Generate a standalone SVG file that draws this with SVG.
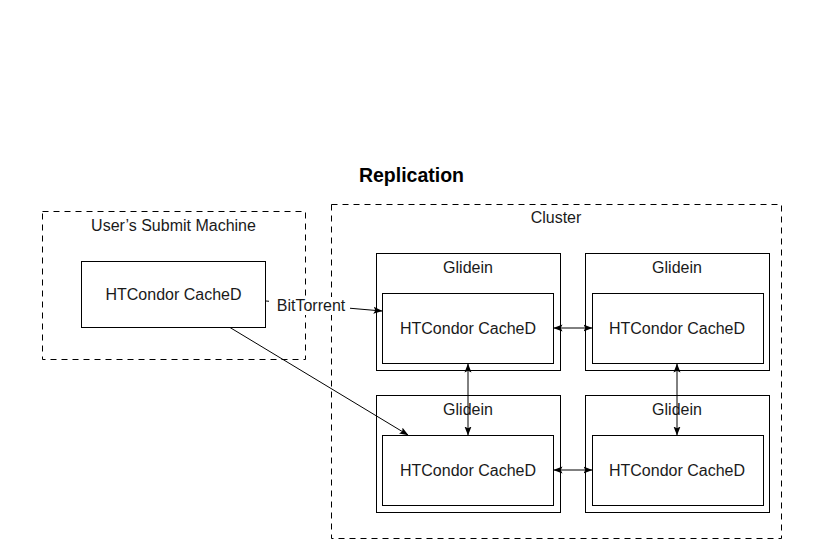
<svg xmlns="http://www.w3.org/2000/svg" width="813" height="556" viewBox="0 0 813 556">
<defs>
<style>
.box{fill:#fff;stroke:#000;stroke-width:1}
.dash{fill:none;stroke:#000;stroke-width:1;stroke-dasharray:6 5}
.t{font-family:"Liberation Sans",Arial,Helvetica,sans-serif;font-size:16px;fill:#1a1a1a;text-anchor:middle}
.title{font-family:"Liberation Sans",Arial,Helvetica,sans-serif;font-size:19.5px;font-weight:bold;fill:#000;text-anchor:middle}
.edge{fill:none;stroke:#000;stroke-width:1}
</style>
<marker id="arr" viewBox="0 0 9 8" refX="8.5" refY="4" markerWidth="9" markerHeight="8" markerUnits="userSpaceOnUse" orient="auto-start-reverse">
<path d="M0,0.5 L9,4 L0,7.5 L1.8,4 z" fill="#000"/>
</marker>
</defs>
<rect width="813" height="556" fill="#fff"/>
<text class="title" x="411.5" y="182">Replication</text>

<g id="submit-machine">
<rect class="dash" x="42.5" y="211.5" width="263" height="148"/>
<text class="t" x="173.5" y="231">User’s Submit Machine</text>
</g>
<g id="submit-cached">
<rect class="box" x="81.5" y="261.5" width="184" height="66"/>
<text class="t" x="173.5" y="300">HTCondor CacheD</text>
</g>

<g id="cluster">
<rect class="dash" x="331.5" y="204.5" width="450" height="334"/>
<text class="t" x="556" y="223">Cluster</text>
</g>

<g id="glidein-tl">
<rect class="box" x="376.5" y="253.5" width="184" height="117"/>
<text class="t" x="468" y="273">Glidein</text>
<rect class="box" x="382.5" y="293.5" width="171" height="70"/>
<text class="t" x="468" y="334">HTCondor CacheD</text>
</g>
<g id="glidein-tr">
<rect class="box" x="585.5" y="253.5" width="184" height="117"/>
<text class="t" x="677" y="273">Glidein</text>
<rect class="box" x="592.5" y="293.5" width="171" height="70"/>
<text class="t" x="677" y="334">HTCondor CacheD</text>
</g>
<g id="glidein-bl">
<rect class="box" x="376.5" y="395.5" width="184" height="117"/>
<text class="t" x="468" y="415">Glidein</text>
<rect class="box" x="382.5" y="435.5" width="171" height="70"/>
<text class="t" x="468" y="476">HTCondor CacheD</text>
</g>
<g id="glidein-br">
<rect class="box" x="585.5" y="395.5" width="184" height="117"/>
<text class="t" x="677" y="415">Glidein</text>
<rect class="box" x="592.5" y="435.5" width="171" height="70"/>
<text class="t" x="677" y="476">HTCondor CacheD</text>
</g>

<g id="connectors">
<line class="edge" x1="266" y1="301" x2="382" y2="311" marker-end="url(#arr)"/>
<rect x="269" y="297" width="81" height="18" fill="#fff"/>
<text class="t" x="311" y="311">BitTorrent</text>
<line class="edge" x1="230" y1="327.5" x2="408" y2="435" marker-end="url(#arr)"/>
<line class="edge" x1="554" y1="328" x2="592" y2="328" marker-start="url(#arr)" marker-end="url(#arr)"/>
<line class="edge" x1="554" y1="470" x2="592" y2="470" marker-start="url(#arr)" marker-end="url(#arr)"/>
<line class="edge" x1="468" y1="364" x2="468" y2="435" marker-start="url(#arr)" marker-end="url(#arr)"/>
<line class="edge" x1="677" y1="364" x2="677" y2="435" marker-start="url(#arr)" marker-end="url(#arr)"/>
</g>
</svg>
